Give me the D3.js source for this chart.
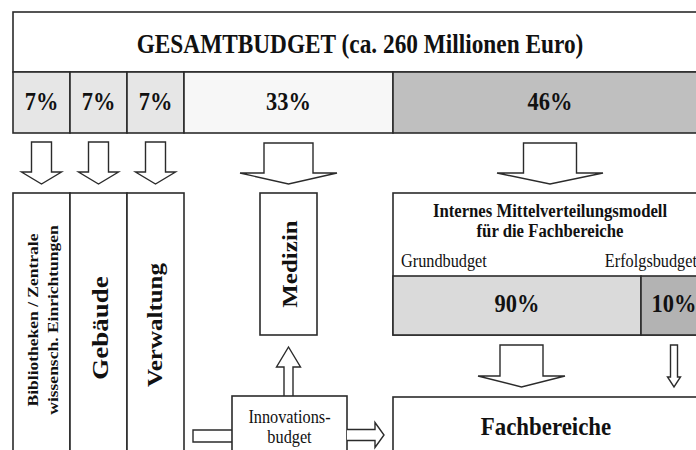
<!DOCTYPE html>
<html>
<head>
<meta charset="utf-8">
<script src="https://cdn.jsdelivr.net/npm/d3@7"></script>
<style>
  body { margin: 0; background: #fff; }
  svg { display: block; }
</style>
</head>
<body>
<svg id="chart"></svg>
<script>
// data
var titleText = "GESAMTBUDGET (ca. 260 Millionen Euro)";
var budgetShares = ["7%", "7%", "7%", "33%", "46%"];
var budgetFills = ["#e6e6e6", "#e6e6e6", "#e6e6e6", "#f7f7f7", "#bfbfbf"];
var unitLabels = [["Bibliotheken / Zentrale", "wissensch. Einrichtungen"], ["Gebäude"], ["Verwaltung"]];
var modelTitle = ["Internes Mittelverteilungsmodell", "für die Fachbereiche"];
var modelLabels = ["Grundbudget", "Erfolgsbudget"];
var modelShares = ["90%", "10%"];
var modelFills = ["#dadada", "#b3b3b3"];

var width = 696, height = 450;
var sx = 0.88;  // the figure is squeezed horizontally
var font = "'Liberation Serif', 'Times New Roman', serif";
var ink = "#2b2b2b";

var svg = d3.select("#chart")
    .attr("width", width)
    .attr("height", height);

// layout of the budget columns
var colX = [13, 70, 127, 184, 393, 707];
var right = 707;

var box = function(x0, y0, x1, y1, fill)
{
    svg.append("rect")
        .attr("x", x0).attr("y", y0)
        .attr("width", x1 - x0).attr("height", y1 - y0)
        .attr("fill", fill || "#fff")
        .attr("stroke", ink)
        .attr("stroke-width", 1.6);
};

var label = function(txt, x, y, size, bold, anchor)
{
    svg.append("text")
        .attr("transform", "translate(" + x + "," + y + ") scale(" + sx + ",1)")
        .attr("text-anchor", anchor || "middle")
        .attr("font-family", font)
        .attr("font-size", size)
        .attr("font-weight", bold ? "bold" : "normal")
        .attr("fill", "#111")
        .text(txt);
};

var vlabel = function(txt, x, y, size)
{
    svg.append("text")
        .attr("transform", "translate(" + x + "," + y + ") scale(" + sx + ",1) rotate(-90)")
        .attr("text-anchor", "middle")
        .attr("font-family", font)
        .attr("font-size", size)
        .attr("font-weight", "bold")
        .attr("fill", "#111")
        .text(txt);
};

// block arrow pointing down
var downArrow = function(cx, top, tip, shaftW, headW, headH)
{
    var base = tip - headH;
    var p = d3.path();
    p.moveTo(cx - shaftW / 2, top);
    p.lineTo(cx + shaftW / 2, top);
    p.lineTo(cx + shaftW / 2, base);
    p.lineTo(cx + headW / 2, base);
    p.lineTo(cx, tip);
    p.lineTo(cx - headW / 2, base);
    p.lineTo(cx - shaftW / 2, base);
    p.closePath();
    svg.append("path").attr("d", p.toString())
        .attr("fill", "#fff").attr("stroke", ink).attr("stroke-width", 1.4)
        .attr("stroke-linejoin", "miter");
};

var upArrow = function(cx, bottom, tip, shaftW, headW, headH)
{
    var base = tip + headH;
    var p = d3.path();
    p.moveTo(cx - shaftW / 2, bottom);
    p.lineTo(cx - shaftW / 2, base);
    p.lineTo(cx - headW / 2, base);
    p.lineTo(cx, tip);
    p.lineTo(cx + headW / 2, base);
    p.lineTo(cx + shaftW / 2, base);
    p.lineTo(cx + shaftW / 2, bottom);
    svg.append("path").attr("d", p.toString())
        .attr("fill", "#fff").attr("stroke", ink).attr("stroke-width", 1.4);
};

var rightArrow = function(left, cy, tip, shaftH, headH, headW)
{
    var base = tip - headW;
    var p = d3.path();
    p.moveTo(left, cy - shaftH / 2);
    p.lineTo(base, cy - shaftH / 2);
    p.lineTo(base, cy - headH / 2);
    p.lineTo(tip, cy);
    p.lineTo(base, cy + headH / 2);
    p.lineTo(base, cy + shaftH / 2);
    p.lineTo(left, cy + shaftH / 2);
    svg.append("path").attr("d", p.toString())
        .attr("fill", "#fff").attr("stroke", ink).attr("stroke-width", 1.4);
};

// top: total budget
box(colX[0], 12, right, 72);
label(titleText, (colX[0] + right) / 2, 53, 26.5, true);

budgetShares.forEach(function(s, i)
{
    box(colX[i], 72, colX[i + 1], 133, budgetFills[i]);
    label(s, (colX[i] + colX[i + 1]) / 2, 110, 25.5, true);
});

// arrows from shares
[0, 1, 2].forEach(function(i)
{
    downArrow((colX[i] + colX[i + 1]) / 2, 142, 184, 20, 40, 12);
});
downArrow(288.5, 143, 184, 49, 97, 11);
downArrow(550, 143, 184, 53, 106, 11);

// central units
var unitTop = 193;
unitLabels.forEach(function(lines, i)
{
    box(colX[i], unitTop, colX[i + 1], 470);
});
vlabel(unitLabels[0][0], 38, 320, 17.5);
vlabel(unitLabels[0][1], 58, 320, 17.5);
vlabel(unitLabels[1][0], 108, 328, 27);
vlabel(unitLabels[2][0], 162, 325, 25);

// Medizin + innovation budget
box(260, unitTop, 317, 335);
vlabel("Medizin", 297, 264, 25);

upArrow(288.5, 396, 347, 9, 24, 20);

svg.append("path")
    .attr("d", "M232,430 L193,430 L193,442 L232,442")
    .attr("fill", "#fff").attr("stroke", ink).attr("stroke-width", 1.4);

box(232, 396, 347, 470);
label("Innovations-", 289.5, 423, 18.5, false);
label("budget", 289.5, 443, 18.5, false);

rightArrow(347, 435, 384, 11, 25, 9);

// internal allocation model
var split = 641;
box(colX[4], unitTop, right, 335);
label(modelTitle[0], 550, 217, 19, true);
label(modelTitle[1], 550, 237, 19, true);
label(modelLabels[0], 401, 267, 18.5, false, "start");
label(modelLabels[1], 697, 267, 18.5, false, "end");
box(colX[4], 276, split, 335, modelFills[0]);
box(split, 276, right, 335, modelFills[1]);
label(modelShares[0], (colX[4] + split) / 2, 312, 25.5, true);
label(modelShares[1], (split + right) / 2, 312, 25.5, true);

downArrow(521.5, 345, 387, 43, 87, 11);
downArrow(674, 345, 387, 7, 13, 10);

// Fachbereiche
box(colX[4], 397, right, 470);
label("Fachbereiche", 546, 435, 26, true);
</script>
</body>
</html>
